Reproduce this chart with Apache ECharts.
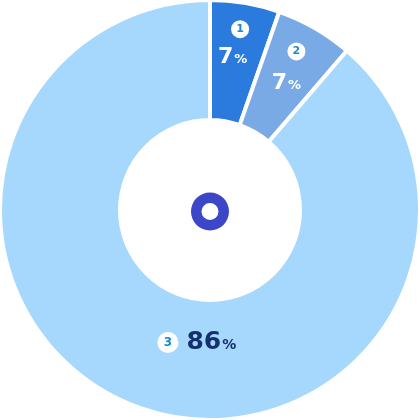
<!DOCTYPE html>
<html>
<head>
<meta charset="utf-8">
<script src="https://cdn.jsdelivr.net/npm/echarts@6/dist/echarts.min.js"></script>
<style>
html,body{margin:0;padding:0;background:#fff;}
#c{width:420px;height:420px;}
</style>
</head>
<body>
<div id="c"></div>
<script>
// Category markers shown in the circular badges
var categories = ['1', '2', '3'];
// Percentage texts printed on the slices
var percentLabels = ['7', '7', '86'];
// Angular share of each slice as drawn in the picture
var sliceShares = [5.35, 5.95, 88.7];
var sliceColors = ['#2b7bdf', '#7aaae6', '#a6d8fd'];

var chart = echarts.init(document.getElementById('c'), null, {renderer: 'canvas'});

var font = 'DejaVu Sans';
var rich = {
  c: {backgroundColor: '#fff', borderRadius: 9, width: 18, height: 18, lineHeight: 18,
      color: '#1a8bd0', fontSize: 11, fontWeight: 'bold', fontFamily: font, align: 'center'},
  c3: {backgroundColor: '#fff', borderRadius: 11, width: 21, height: 21, lineHeight: 21,
      color: '#1a8bd0', fontSize: 12, fontWeight: 'bold', fontFamily: font, align: 'center'},
  sp1: {width: 15, height: 18},
  sp2: {width: 20, height: 18},
  sp3: {width: 8, height: 18},
  n1: {color: '#fff', fontSize: 22, fontWeight: 'bold', fontFamily: font, lineHeight: 38},
  n2: {color: '#fff', fontSize: 22, fontWeight: 'bold', fontFamily: font, lineHeight: 46},
  p: {color: '#fff', fontSize: 13, fontWeight: 'bold', fontFamily: font, padding: [5, 0, 0, 1]},
  n3: {color: '#15306e', fontSize: 25, fontWeight: 'bold', fontFamily: font, lineHeight: 30},
  p3: {color: '#15306e', fontSize: 14, fontWeight: 'bold', fontFamily: font, padding: [6, 0, 0, 1]}
};

var offsets = [[-3, -11], [0, -3], [40, -11]];

var data = sliceShares.map(function (v, i) {
  return {value: v, name: categories[i], itemStyle: {color: sliceColors[i]}};
});

chart.setOption({
  animation: false,
  series: [
    {
      type: 'pie',
      center: ['50%', '50%'],
      radius: [90, 210],
      startAngle: 90,
      clockwise: true,
      itemStyle: {borderColor: '#fff', borderWidth: 4},
      emphasis: {disabled: true},
      label: {
        show: true,
        position: 'inside',
        formatter: function (p) {
          var i = p.dataIndex;
          if (i === 2) {
            return '{c3|' + categories[i] + '}{sp3|}{n3|' + percentLabels[i] + '}{p3|%}';
          }
          return '{sp' + (i + 1) + '|}{c|' + categories[i] + '}\n{n' + (i + 1) + '|' + percentLabels[i] + '}{p|%}';
        },
        rich: rich
      },
      labelLine: {show: false},
      labelLayout: function (params) {
        var o = offsets[params.dataIndex];
        return {dx: o[0], dy: o[1]};
      },
      data: data
    },
    {
      type: 'pie',
      center: [210, 211.5],
      radius: [8.5, 19],
      silent: true,
      label: {show: false},
      labelLine: {show: false},
      itemStyle: {color: '#3c46c8'},
      data: [{value: 1, name: 'ring'}]
    }
  ]
});
</script>
</body>
</html>
